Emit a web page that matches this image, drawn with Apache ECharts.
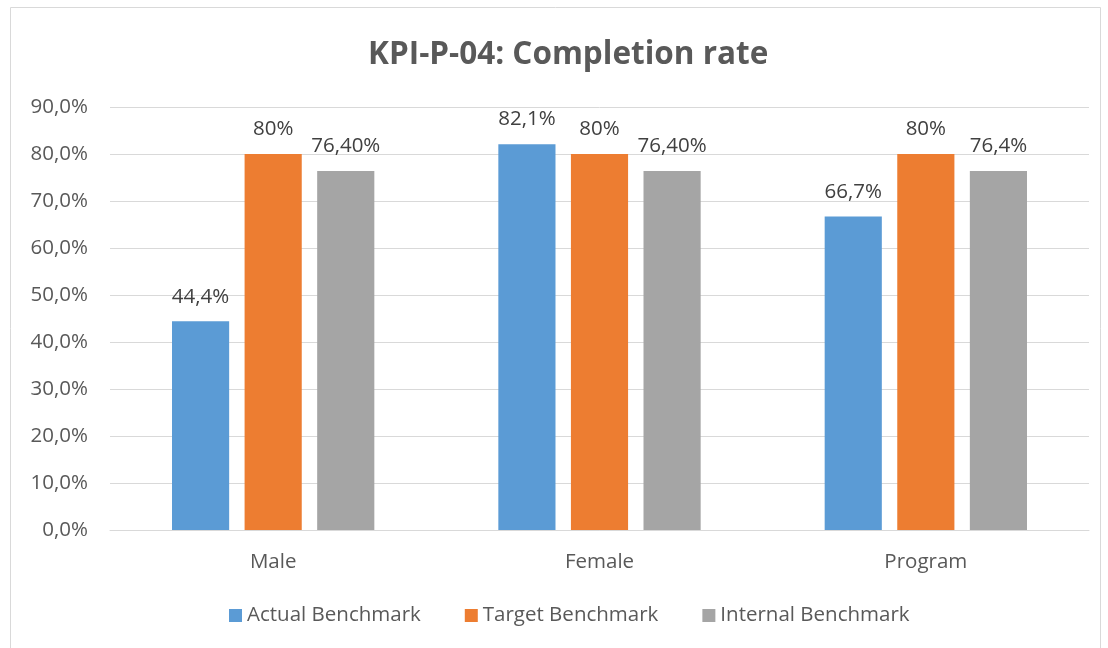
<!DOCTYPE html>
<html>
<head>
<meta charset="utf-8">
<title>KPI-P-04: Completion rate</title>
<script src="https://cdn.jsdelivr.net/npm/echarts@6/dist/echarts.min.js"></script>
<style>
  html, body { margin: 0; padding: 0; background: #fff; }
  #chart { width: 1108px; height: 648px; }
</style>
</head>
<body>
<div id="chart"></div>
<script>
// chart data
const categories = ['Male', 'Female', 'Program']
const seriesNames = ['Actual Benchmark', 'Target Benchmark', 'Internal Benchmark']
const actualValues = [44.4, 82.1, 66.7]
const targetValues = [80, 80, 80]
const internalValues = [76.4, 76.4, 76.4]
// labels as written in the source chart (mixed formats)
const actualLabels = ['44,4%', '82,1%', '66,7%']
const targetLabels = ['80%', '80%', '80%']
const internalLabels = ['76,40%', '76,40%', '76,4%']
const yTicks = [0, 10, 20, 30, 40, 50, 60, 70, 80, 90]

const colors = ['#5b9bd5', '#ed7d31', '#a5a5a5']
const font = '"Open Sans", "Noto Sans", sans-serif'

const chart = echarts.init(document.getElementById('chart'))

function barSeries(name, values, labels, color) {
  return {
    name: name,
    type: 'bar',
    data: values,
    barGap: '27%',
    barCategoryGap: '38%',
    itemStyle: { color: color },
    label: {
      show: true,
      position: 'top',
      distance: 14,
      color: '#404040',
      fontFamily: font,
      fontSize: 20.5,
      formatter: (p) => labels[p.dataIndex]
    }
  }
}

chart.setOption({
  animation: false,
  color: colors,
  title: {
    text: 'KPI-P-04: Completion rate',
    left: 363,
    top: 34,
    textStyle: {
      fontFamily: font,
      fontSize: 31.5,
      fontWeight: 'bold',
      color: '#595959'
    }
  },
  graphic: [{
    type: 'rect',
    shape: { x: 10.5, y: 7.5, width: 1090, height: 650 },
    style: { fill: 'none', stroke: '#d9d9d9', lineWidth: 1 },
    silent: true
  }],
  legend: {
    bottom: 17,
    left: 224,
    itemWidth: 13,
    itemHeight: 13,
    itemGap: 44,
    icon: 'rect',
    textStyle: {
      fontFamily: font,
      fontSize: 20.5,
      color: '#595959'
    },
    data: seriesNames
  },
  grid: {
    left: 110,
    right: 19,
    top: 107,
    bottom: 118
  },
  xAxis: {
    type: 'category',
    data: categories,
    axisTick: { show: false },
    axisLine: { lineStyle: { color: '#d9d9d9', width: 1 } },
    axisLabel: {
      color: '#595959',
      fontFamily: font,
      fontSize: 20.5,
      margin: 22
    }
  },
  yAxis: {
    type: 'value',
    min: yTicks[0],
    max: yTicks[yTicks.length - 1],
    interval: 10,
    axisLine: { show: false },
    axisTick: { show: false },
    splitLine: { lineStyle: { color: '#d9d9d9', width: 1 } },
    axisLabel: {
      color: '#595959',
      fontFamily: font,
      fontSize: 20.5,
      margin: 22,
      formatter: (v) => v.toFixed(1).replace('.', ',') + '%'
    }
  },
  series: [
    barSeries(seriesNames[0], actualValues, actualLabels, colors[0]),
    barSeries(seriesNames[1], targetValues, targetLabels, colors[1]),
    barSeries(seriesNames[2], internalValues, internalLabels, colors[2])
  ]
})

window.addEventListener('resize', () => chart.resize())
</script>
</body>
</html>
